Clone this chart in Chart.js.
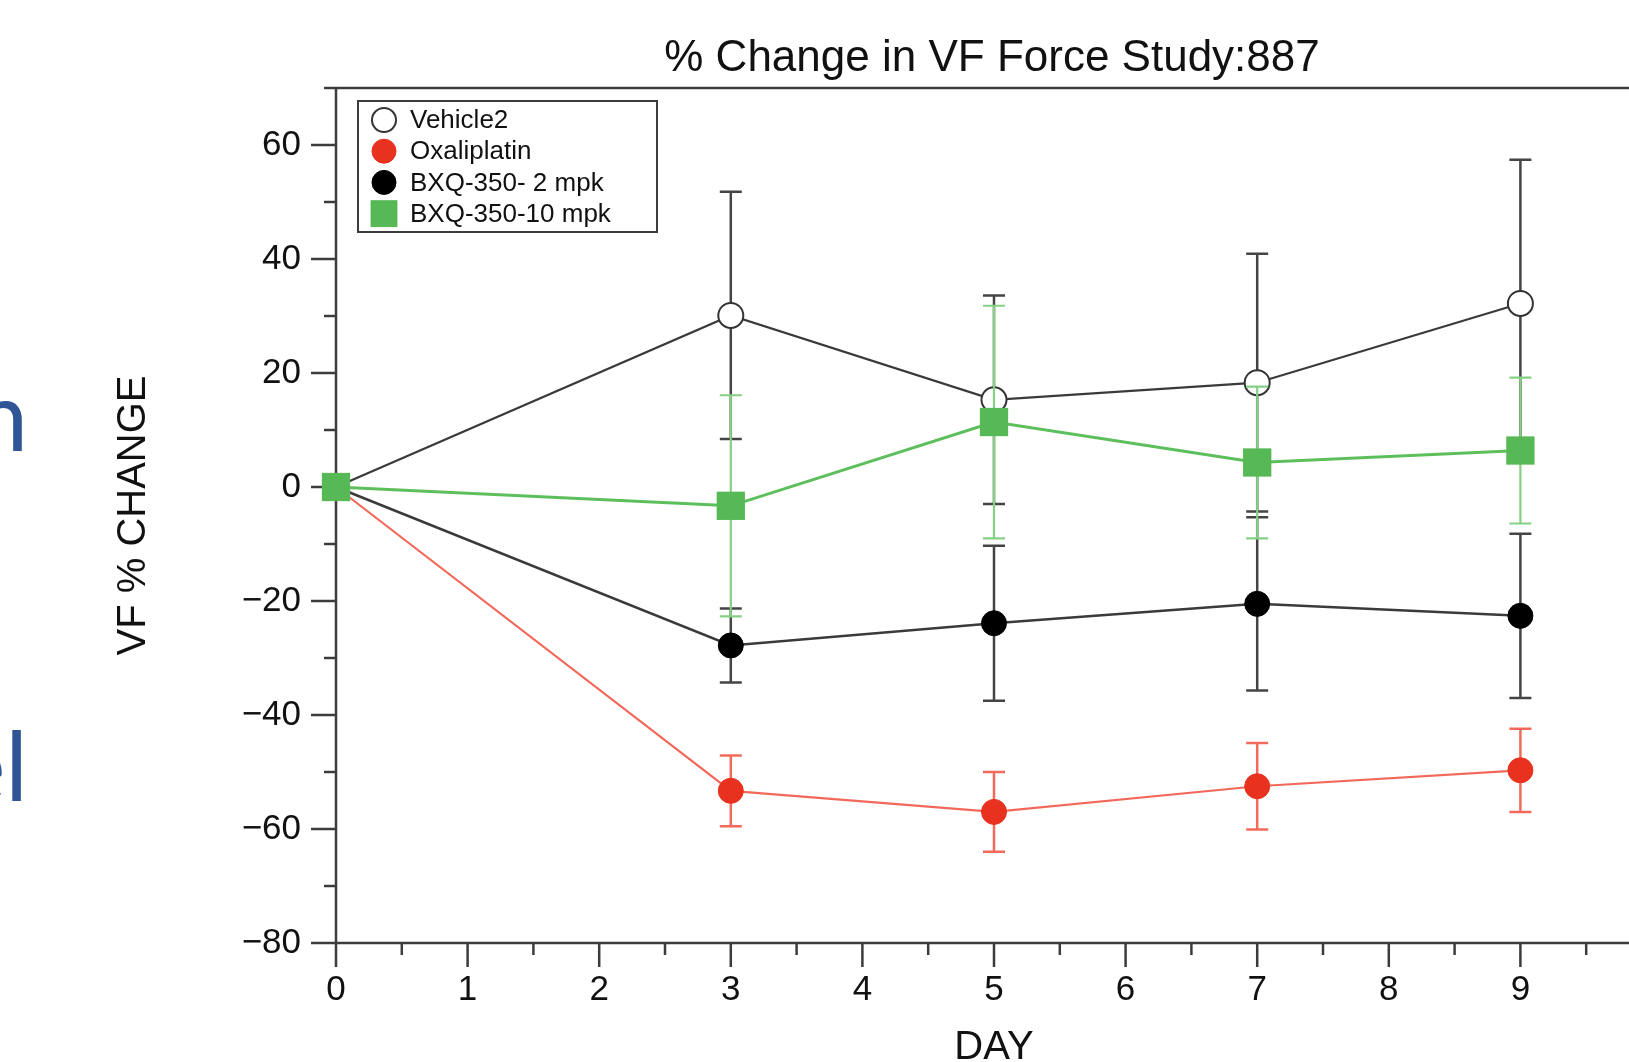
<!DOCTYPE html>
<html>
<head>
<meta charset="utf-8">
<script src="https://cdn.jsdelivr.net/npm/chart.js@4.4.1/dist/chart.umd.min.js"></script>
<style>
  html, body { margin: 0; padding: 0; background: #fff; overflow: hidden; }
  #wrap { position: relative; width: 1629px; height: 1062px; overflow: hidden; background: #fff; }
  #chart { position: absolute; left: 0; top: 0; }
  .slide { position: absolute; left: 28px; transform: translateX(-100%); font-family: Lato, "Open Sans", sans-serif;
           font-size: 96px; line-height: 1; color: #2F5597; white-space: nowrap; }
</style>
</head>
<body>
<div id="wrap">
  <canvas id="chart" width="1700" height="1100"></canvas>
  <div class="slide" style="top:366px">n</div>
  <div class="slide" style="top:716px">el</div>
</div>
<script>
// values (mean and SEM, % change)
const days = [0, 3, 5, 7, 9];
const seriesNames = ['Vehicle2', 'Oxaliplatin', 'BXQ-350- 2 mpk', 'BXQ-350-10 mpk'];
const vehicleMean = [0, 30.1, 15.3, 18.3, 32.2];
const vehicleSem = [0, 21.7, 18.3, 22.6, 25.2];
const oxaliMean = [0, -53.3, -57.0, -52.5, -49.7];
const oxaliSem = [0, 6.2, 7.0, 7.6, 7.3];
const bxq2Mean = [0, -27.8, -23.9, -20.5, -22.6];
const bxq2Sem = [0, 6.5, 13.6, 15.2, 14.4];
const bxq10Mean = [0, -3.3, 11.4, 4.3, 6.4];
const bxq10Sem = [0, 19.4, 20.4, 13.3, 12.8];

const titleText = '% Change in VF Force Study:887';
const FONT = '"Liberation Sans", Arial, Helvetica, sans-serif';
const AXIS = '#3c3c3c';

function points(means) {
    return days.map((d, i) => ({x: d, y: means[i]}));
}

// error bars drawn just before each dataset so its own markers sit on top
const errorBars = {
    id: 'errorBars',
    beforeDatasetDraw(chart, args) {
        const ds = chart.data.datasets[args.index];
        if (!ds.sem) return;
        const {x, y} = chart.scales;
        const ctx = chart.ctx;
        ctx.save();
        ctx.strokeStyle = ds.errorColor;
        ctx.lineWidth = ds.errorWidth;
        ds.data.forEach((p, i) => {
            const s = ds.sem[i];
            if (!s) return;
            const px = x.getPixelForValue(p.x);
            const top = y.getPixelForValue(p.y + s);
            const bot = y.getPixelForValue(p.y - s);
            ctx.beginPath();
            ctx.moveTo(px, top); ctx.lineTo(px, bot);
            ctx.moveTo(px - 11, top); ctx.lineTo(px + 11, top);
            ctx.moveTo(px - 11, bot); ctx.lineTo(px + 11, bot);
            ctx.stroke();
        });
        ctx.restore();
    }
};

// axes, frame top and major / minor tick marks
const frame = {
    id: 'frame',
    beforeDatasetsDraw(chart) {
        const {ctx, chartArea: a, scales: {x, y}} = chart;
        ctx.save();
        ctx.strokeStyle = AXIS;
        ctx.lineWidth = 2.5;
        ctx.beginPath();
        ctx.moveTo(a.left, a.top); ctx.lineTo(a.left, a.bottom);
        ctx.moveTo(a.left, a.bottom); ctx.lineTo(a.right, a.bottom);
        ctx.moveTo(a.left, a.top); ctx.lineTo(a.right, a.top);
        y.ticks.forEach(t => {
            const py = y.getPixelForValue(t.value);
            const len = t.value % 20 === 0 ? 25 : 12;
            ctx.moveTo(a.left - len, py); ctx.lineTo(a.left, py);
        });
        x.ticks.forEach(t => {
            const px = x.getPixelForValue(t.value);
            const len = Number.isInteger(t.value) ? 24 : 12;
            ctx.moveTo(px, a.bottom); ctx.lineTo(px, a.bottom + len);
        });
        ctx.stroke();
        ctx.restore();
    }
};

const titleAndLegend = {
    id: 'titleAndLegend',
    afterDraw(chart) {
        const {ctx, chartArea: a} = chart;
        ctx.save();
        ctx.fillStyle = '#111';
        ctx.font = '44px ' + FONT;
        ctx.textAlign = 'center';
        ctx.textBaseline = 'alphabetic';
        ctx.fillText(titleText, (a.left + a.right) / 2 - 2, 71);

        // legend box
        const bx = 358, by = 101, bw = 299, bh = 131;
        ctx.fillStyle = '#fff';
        ctx.fillRect(bx, by, bw, bh);
        ctx.strokeStyle = AXIS;
        ctx.lineWidth = 2;
        ctx.strokeRect(bx, by, bw, bh);
        ctx.font = '26px ' + FONT;
        ctx.textAlign = 'left';
        ctx.textBaseline = 'middle';
        chart.data.datasets.forEach((ds, i) => {
            const cy = 120 + i * 31.2;
            ctx.fillStyle = ds.pointBackgroundColor;
            ctx.strokeStyle = ds.pointBorderColor;
            ctx.lineWidth = ds.pointBorderWidth;
            Chart.helpers.drawPoint(ctx, {
                pointStyle: ds.pointStyle,
                radius: ds.pointStyle === 'rect' ? 19 : 12,
                rotation: 0,
                borderWidth: ds.pointBorderWidth
            }, 384, cy);
            ctx.fillStyle = '#111';
            ctx.fillText(ds.label, 410, cy + 1);
        });
        ctx.restore();
    }
};

const ctxC = document.getElementById('chart').getContext('2d');

new Chart(ctxC, {
    type: 'line',
    plugins: [frame, errorBars, titleAndLegend],
    data: {
        datasets: [{
            label: seriesNames[0],
            data: points(vehicleMean),
            sem: vehicleSem,
            errorColor: '#444',
            errorWidth: 2.5,
            borderColor: '#3a3a3a',
            borderWidth: 2.2,
            pointStyle: 'circle',
            pointRadius: 12.5,
            pointBackgroundColor: '#fff',
            pointBorderColor: '#333',
            pointBorderWidth: 2,
            order: 4,
            clip: false
        }, {
            label: seriesNames[1],
            data: points(oxaliMean),
            sem: oxaliSem,
            errorColor: '#f26a5b',
            errorWidth: 2.5,
            borderColor: '#f2695b',
            borderWidth: 2.2,
            pointStyle: 'circle',
            pointRadius: 12.5,
            pointBackgroundColor: '#e8311f',
            pointBorderColor: '#e8311f',
            pointBorderWidth: 1,
            order: 3,
            clip: false
        }, {
            label: seriesNames[2],
            data: points(bxq2Mean),
            sem: bxq2Sem,
            errorColor: '#444',
            errorWidth: 2.5,
            borderColor: '#3a3a3a',
            borderWidth: 2.5,
            pointStyle: 'circle',
            pointRadius: 12.5,
            pointBackgroundColor: '#000',
            pointBorderColor: '#000',
            pointBorderWidth: 1,
            order: 2,
            clip: false
        }, {
            label: seriesNames[3],
            data: points(bxq10Mean),
            sem: bxq10Sem,
            errorColor: '#86d086',
            errorWidth: 2.2,
            borderColor: '#5cbf5c',
            borderWidth: 3,
            pointStyle: 'rect',
            pointRadius: 20,
            pointBackgroundColor: '#56b956',
            pointBorderColor: '#56b956',
            pointBorderWidth: 0,
            order: 1,
            clip: false
        }]
    },
    options: {
        responsive: false,
        animation: false,
        events: [],
        layout: {padding: {top: 88, right: 48, left: 0, bottom: 0}},
        plugins: {
            legend: {display: false},
            title: {display: false},
            tooltip: {enabled: false}
        },
        scales: {
            x: {
                type: 'linear',
                min: 0,
                max: 10,
                afterFit(s) { s.height = 157; },
                grid: {display: false},
                border: {display: false},
                ticks: {
                    stepSize: 0.5,
                    autoSkip: false,
                    maxRotation: 0,
                    padding: 18,
                    color: '#111',
                    font: {family: FONT, size: 35},
                    callback: v => (Number.isInteger(v) && v < 10) ? String(v) : ''
                },
                title: {
                    display: true,
                    text: 'DAY',
                    color: '#111',
                    font: {family: FONT, size: 40},
                    padding: {top: 0, bottom: 28}
                }
            },
            y: {
                min: -80,
                max: 70,
                afterFit(s) { s.width = 336; },
                grid: {display: false},
                border: {display: false},
                ticks: {
                    stepSize: 10,
                    autoSkip: false,
                    padding: 27,
                    color: '#111',
                    font: {family: FONT, size: 35},
                    callback: v => v % 20 === 0 ? (v < 0 ? '\u2212' + Math.abs(v) : String(v)) : ''
                },
                title: {
                    display: true,
                    text: 'VF % CHANGE',
                    color: '#111',
                    font: {family: FONT, size: 40},
                    padding: {top: 110, bottom: 0}
                }
            }
        }
    }
});
</script>
</body>
</html>
